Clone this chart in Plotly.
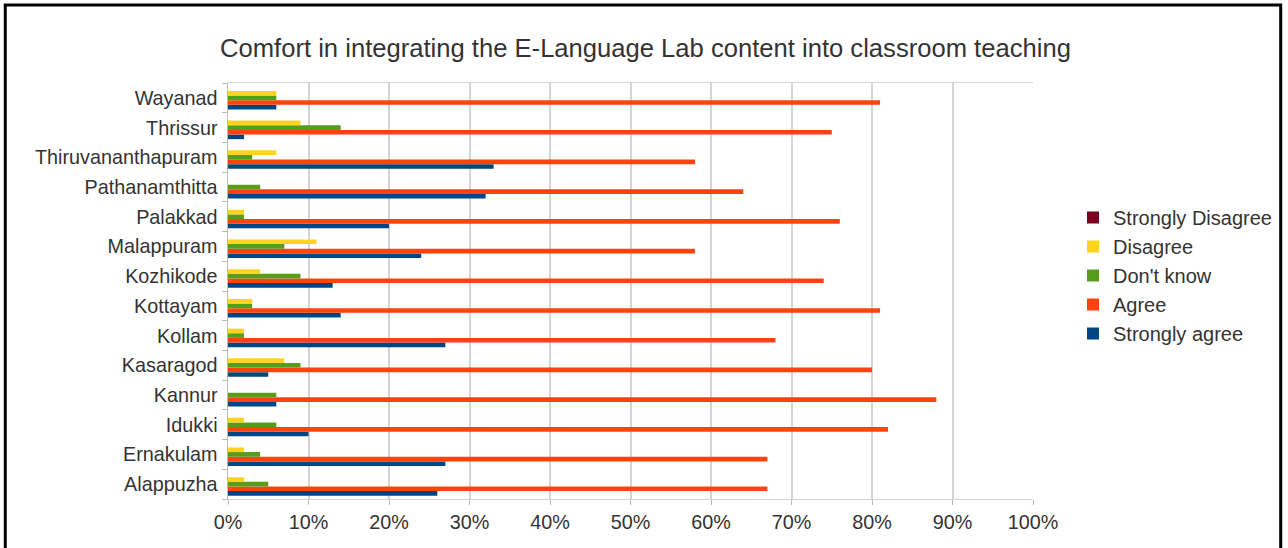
import plotly.graph_objects as go

districts = ["Alappuzha", "Ernakulam", "Idukki", "Kannur", "Kasaragod", "Kollam", "Kottayam",
             "Kozhikode", "Malappuram", "Palakkad", "Pathanamthitta", "Thiruvananthapuram",
             "Thrissur", "Wayanad"]
strongly_agree = [26, 27, 10, 6, 5, 27, 14, 13, 24, 20, 32, 33, 2, 6]
agree = [67, 67, 82, 88, 80, 68, 81, 74, 58, 76, 64, 58, 75, 81]
dont_know = [5, 4, 6, 6, 9, 2, 3, 9, 7, 2, 4, 3, 14, 6]
disagree = [2, 2, 2, 0, 7, 2, 3, 4, 11, 2, 0, 6, 9, 6]
strongly_disagree = [0, 0, 0, 0, 0, 0, 0, 0, 0, 0, 0, 0, 0, 0]
x_ticks = [0, 10, 20, 30, 40, 50, 60, 70, 80, 90, 100]
x_tick_labels = [f"{v}%" for v in x_ticks]

series = [
    ("Strongly agree", strongly_agree, "#004586"),
    ("Agree", agree, "#ff420e"),
    ("Don't know", dont_know, "#579d1c"),
    ("Disagree", disagree, "#ffd320"),
    ("Strongly Disagree", strongly_disagree, "#7e0021"),
]

fig = go.Figure()
for name, vals, color in series:
    fig.add_trace(go.Bar(y=districts, x=vals, name=name, orientation="h",
                         marker=dict(color=color, line=dict(width=0))))

W, H = 1288, 548
L, R, T, B = 228, 1034, 83, 499

def px(x):
    return (x - L) / (R - L)

def py(y):
    return (B - y) / (B - T)

font_family = "Liberation Sans, Arial, sans-serif"
fig.update_layout(
    width=W, height=H,
    margin=dict(l=L, r=W - R, t=T, b=H - B),
    barmode="group", bargap=0.22, bargroupgap=0,
    plot_bgcolor="white", paper_bgcolor="white",
    font=dict(family=font_family, size=19.8, color="#333333"),
    title=dict(text="Comfort in integrating the E-Language Lab content into classroom teaching",
               x=px(646), xref="paper", xanchor="center", y=1 - 48 / H, yanchor="middle",
               font=dict(size=25.6, color="#333333")),
    legend=dict(x=px(1073), y=py(198), xanchor="left", yanchor="top", traceorder="reversed",
                font=dict(size=20, color="#333333"), bgcolor="rgba(0,0,0,0)",
                itemwidth=30, tracegroupgap=0),
    xaxis=dict(range=[0, 100], tickvals=x_ticks, ticktext=x_tick_labels,
               showgrid=True, gridcolor="#d4d4d4", gridwidth=2,
               showline=True, linecolor="#d4d4d4", linewidth=1, mirror=True,
               ticks="outside", ticklen=5, tickcolor="#bbbbbb",
               zeroline=False, fixedrange=True),
    yaxis=dict(categoryorder="array", categoryarray=districts,
               showline=True, linecolor="#bbbbbb", linewidth=1,
               ticks="outside", ticklen=5, tickcolor="#bbbbbb", tickson="boundaries",
               showgrid=False, fixedrange=True, ticksuffix=" "),
    showlegend=True,
)

fig.add_shape(type="rect", xref="paper", yref="paper",
              x0=px(5), x1=px(1282), y0=py(600), y1=py(5),
              line=dict(color="black", width=3), fillcolor="rgba(0,0,0,0)", layer="above")

fig.write_html("out.html", config={"displayModeBar": False},
               post_script="document.body.style.margin='0';")
